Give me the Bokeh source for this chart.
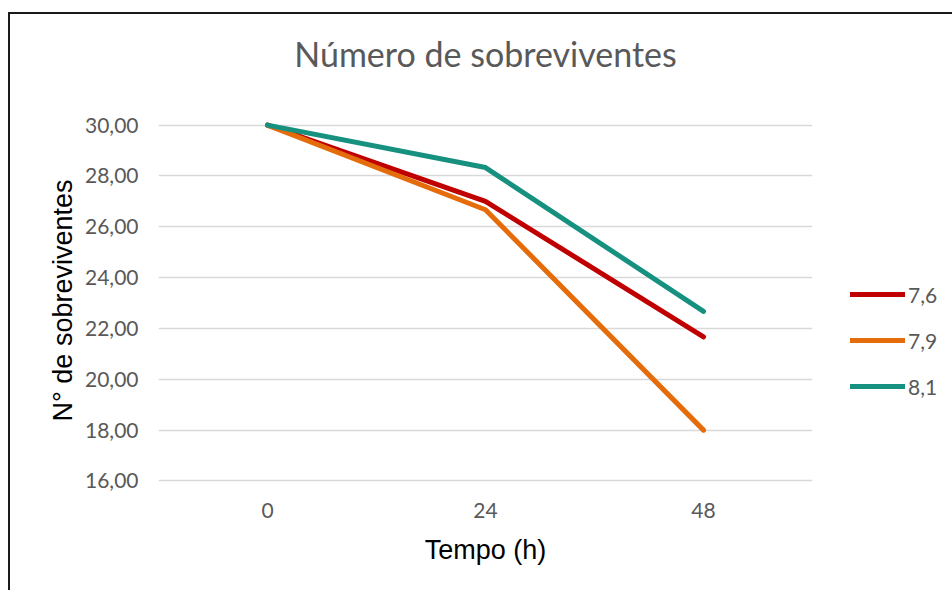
from bokeh.plotting import figure
from bokeh.models import FixedTicker, Range1d, Legend, LegendItem, Title
from bokeh.embed import file_html
from bokeh.resources import INLINE

# ---- data ----
tempos = ["0", "24", "48"]
serie_76 = [30.0, 27.0, 21.67]
serie_79 = [30.0, 26.67, 18.0]
serie_81 = [30.0, 28.33, 22.67]
series_names = ["7,6", "7,9", "8,1"]
y_ticks = [16, 18, 20, 22, 24, 26, 28, 30]
y_tick_labels = ["16,00", "18,00", "20,00", "22,00", "24,00", "26,00", "28,00", "30,00"]

colors = ["#C00000", "#E46C0A", "#16907F"]
GRAY = "#595959"
TICK_FONT = "Lato"
LABEL_FONT = "Liberation Sans"

p = figure(
    x_range=tempos,
    y_range=Range1d(15.9, 30.3),
    width=940, height=576,
    frame_width=654, frame_height=366,
    min_border_left=148, min_border_right=138,
    min_border_top=103, min_border_bottom=107,
    output_backend="svg", toolbar_location=None,
)
p.styles = {"margin-top": "12px", "margin-left": "8px",
            "border-top": "2px solid #1a1a1a", "border-left": "2px solid #1a1a1a"}
p.x_range.range_padding = 0
p.outline_line_color = None

# spacer between the title and the plot area (nearest to the frame)
spacer = Title(text=" ", text_font_size="24px", standoff=0, text_color="#FFFFFF")
p.add_layout(spacer, "above")
title = Title(text="Número de sobreviventes", align="center",
              text_font=TICK_FONT, text_font_size="34px", text_font_style="normal",
              text_color=GRAY, standoff=30)
p.add_layout(title, "above")

renderers = []
for vals, col in zip([serie_76, serie_79, serie_81], colors):
    r = p.line(tempos, vals, line_color=col, line_width=5, line_cap="round", line_join="round")
    renderers.append(r)

# axes
p.yaxis.ticker = FixedTicker(ticks=y_ticks)
p.yaxis.major_label_overrides = {t: l for t, l in zip(y_ticks, y_tick_labels)}
for ax in (p.xaxis[0], p.yaxis[0]):
    ax.axis_line_color = None
    ax.major_tick_line_color = None
    ax.minor_tick_line_color = None
    ax.major_label_text_font = TICK_FONT
    ax.major_label_text_font_size = "21px"
    ax.major_label_text_color = GRAY
    ax.axis_label_text_font = LABEL_FONT
    ax.axis_label_text_font_size = "27px"
    ax.axis_label_text_font_style = "normal"
    ax.axis_label_text_color = "#000000"
p.yaxis.axis_label = "N° de sobreviventes"
p.xaxis.axis_label = "Tempo (h)"
p.yaxis.major_label_standoff = 14
p.yaxis.axis_label_standoff = 4
p.xaxis.major_label_standoff = 13
p.xaxis.axis_label_standoff = 14

p.xgrid.grid_line_color = None
p.ygrid.grid_line_color = "#D9D9D9"
p.ygrid.grid_line_width = 1.5

legend = Legend(
    items=[LegendItem(label=n, renderers=[r]) for n, r in zip(series_names, renderers)],
    location=(38, 84),
    orientation="vertical",
    background_fill_alpha=0, border_line_color=None,
    label_text_font=TICK_FONT, label_text_font_size="21px", label_text_color=GRAY,
    glyph_width=55, glyph_height=26, label_standoff=3, spacing=20, padding=0, margin=0,
)
p.add_layout(legend, "right")

open("out.html", "w").write(file_html(p, INLINE))
